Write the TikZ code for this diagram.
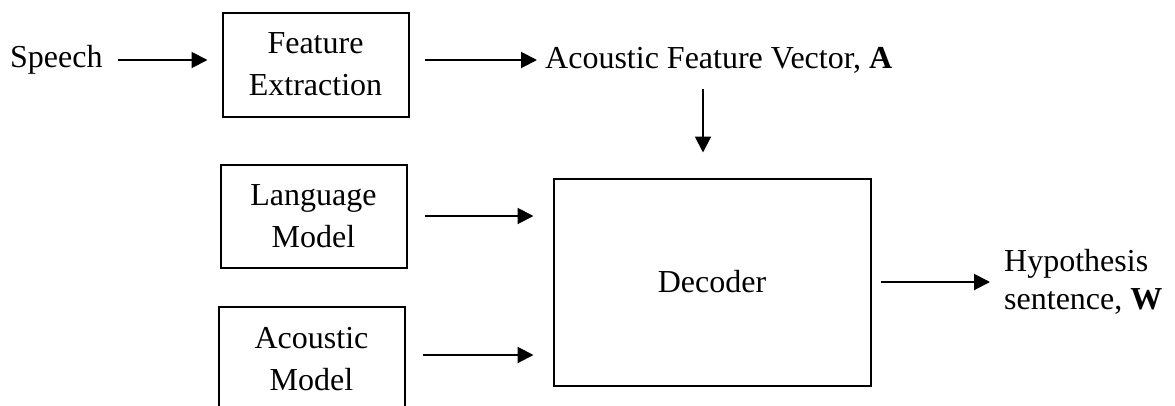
\documentclass[tikz,border=0pt]{standalone}
\usepackage{fontspec}
\setmainfont{Liberation Serif}
\usetikzlibrary{arrows.meta}

\begin{document}
\begin{tikzpicture}[x=1bp,y=-1bp,line join=miter]
  \path[use as bounding box] (0,0) rectangle (1175,405);
  \fill[white] (0,0) rectangle (1175,405);

  \tikzset{
    block/.style={draw=black,line width=2bp,inner sep=0pt,align=center,
      font=\fontsize{32bp}{42bp}\selectfont},
    caption/.style={anchor=west,inner sep=0pt,align=left,
      font=\fontsize{32bp}{38bp}\selectfont},
    link/.style={-{Triangle[length=16bp,width=16bp]},line width=2bp,draw=black},
  }

  % ==================== FRONT END ====================
  \node[caption] (speech) at (10,60) {Speech};
  \node[block,minimum width=186bp,minimum height=104bp] (fe) at (315.5,64.5) {Feature\\Extraction};
  \node[caption] (afv) at (545,60) {Acoustic Feature Vector, \textbf{A}};

  \draw[link,shorten <=15bp,shorten >=14bp] (speech.east) -- (speech.east -| fe.west);
  \draw[link,shorten <=15bp,shorten >=8bp] (fe.east |- afv.west) -- (afv.west);

  % ==================== MODELS ====================
  \node[block,minimum width=186bp,minimum height=103bp] (lm) at (313.5,216) {Language\\Model};
  \node[block,minimum width=186bp,minimum height=104bp] (am) at (311.5,359) {Acoustic\\Model};

  % ==================== DECODER ====================
  \node[block,minimum width=317bp,minimum height=207bp] (dec) at (712,282) {Decoder};
  \node[caption] (hyp) at (1004,282) {Hypothesis\\sentence, \textbf{W}};

  % Feature vector into decoder
  \coordinate (tap) at (703,0);
  \draw[link,shorten <=29bp,shorten >=25bp] (afv.center -| tap) -- (dec.north -| tap);

  % Models into decoder
  \draw[link,shorten <=17bp,shorten >=19bp] (lm.east) -- (lm.east -| dec.west);
  \draw[link,shorten <=17bp,shorten >=19bp] ([yshift=4bp]am.east) -- ([yshift=4bp]am.east -| dec.west);

  % Output hypothesis
  \draw[link,shorten <=9bp,shorten >=14bp] (dec.east |- hyp.west) -- (hyp.west);

\end{tikzpicture}
\end{document}
